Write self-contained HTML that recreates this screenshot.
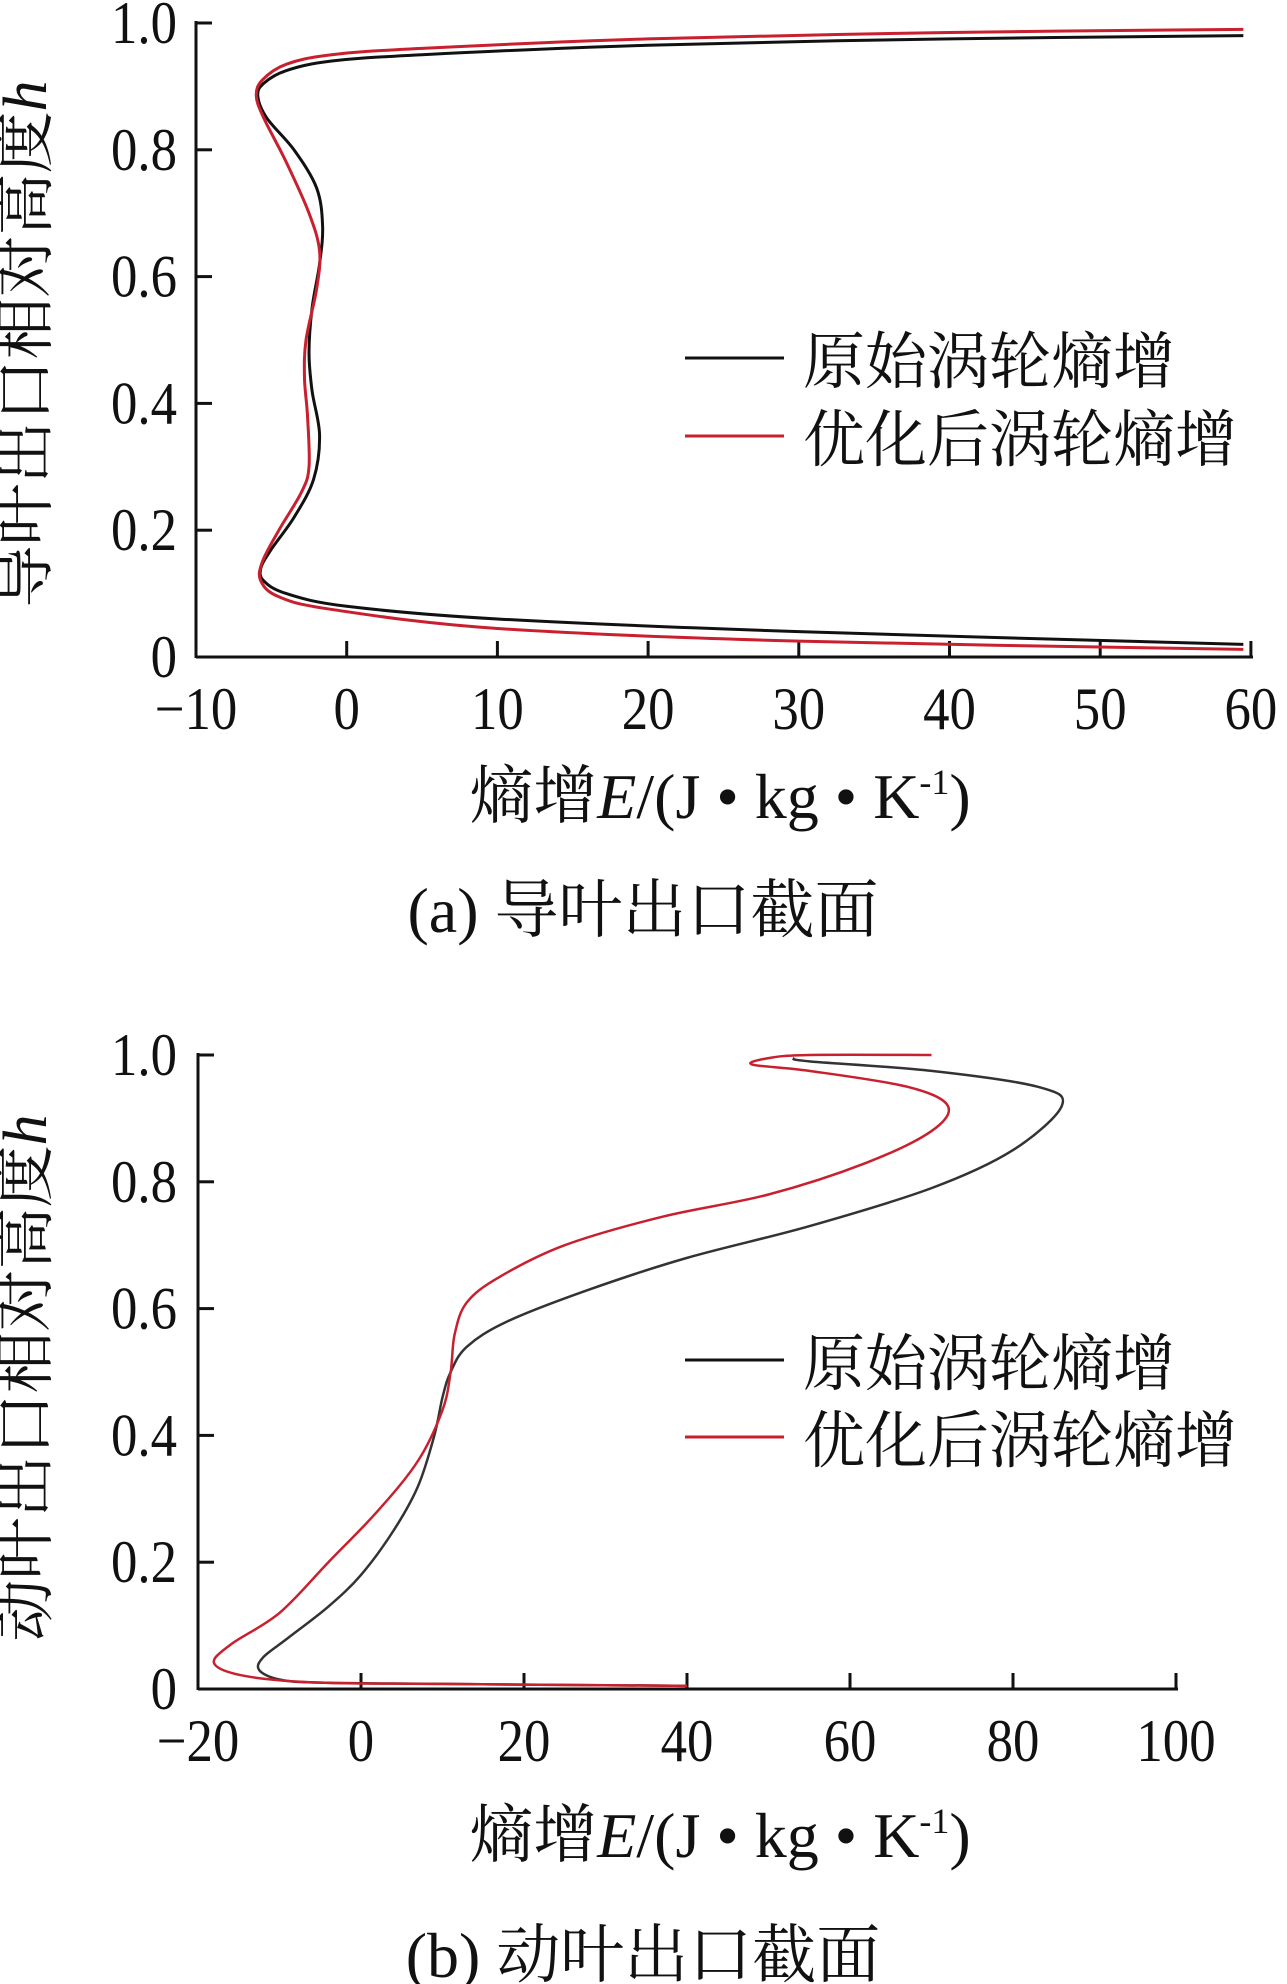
<!DOCTYPE html>
<html><head><meta charset="utf-8"><style>
html,body{margin:0;padding:0;background:#fff}
svg{display:block}
text{font-family:"Liberation Serif","Noto Serif CJK SC","Noto Sans CJK SC",serif;fill:#111}
</style></head><body>
<svg id="s" width="1287" height="1984" viewBox="0 0 1287 1984" xmlns="http://www.w3.org/2000/svg">
<g id="g"></g>
<line x1="196" y1="657" x2="1253" y2="657" stroke="#111" stroke-width="3"/>
<line x1="196" y1="21" x2="196" y2="658" stroke="#111" stroke-width="3"/>
<line x1="198" y1="1689" x2="1178" y2="1689" stroke="#111" stroke-width="3"/>
<line x1="198" y1="1053" x2="198" y2="1690" stroke="#111" stroke-width="3"/>
<g font-size="62">
<text x="32" y="344" transform="rotate(-90 32 344)" text-anchor="middle" dominant-baseline="middle">导叶出口相对高度<tspan font-style="italic">h</tspan></text>
<text x="32" y="1378" transform="rotate(-90 32 1378)" text-anchor="middle" dominant-baseline="middle">动叶出口相对高度<tspan font-style="italic">h</tspan></text>
</g>
<g font-size="64">
<text x="720" y="818" text-anchor="middle">熵增<tspan font-style="italic">E</tspan>/(J • kg • K<tspan font-size="36" dy="-24">-1</tspan><tspan dy="24">)</tspan></text>
<text x="720" y="1857" text-anchor="middle">熵增<tspan font-style="italic">E</tspan>/(J • kg • K<tspan font-size="36" dy="-24">-1</tspan><tspan dy="24">)</tspan></text>
<text x="643" y="932" text-anchor="middle">(a) 导叶出口截面</text>
<text x="643" y="1977" text-anchor="middle">(b) 动叶出口截面</text>
</g>
<g font-size="62">
<line x1="685" y1="358" x2="784" y2="358" stroke="#111" stroke-width="3"/>
<text x="803" y="383">原始涡轮熵增</text>
<line x1="685" y1="436" x2="784" y2="436" stroke="#c8202e" stroke-width="3"/>
<text x="803" y="461">优化后涡轮熵增</text>
<line x1="685" y1="1360" x2="784" y2="1360" stroke="#111" stroke-width="3"/>
<text x="803" y="1385">原始涡轮熵增</text>
<line x1="685" y1="1437" x2="784" y2="1437" stroke="#c8202e" stroke-width="3"/>
<text x="803" y="1462">优化后涡轮熵增</text>
</g>
</svg>
<script>
var NS="http://www.w3.org/2000/svg",g=document.getElementById("g");
function el(t,a,txt){var e=document.createElementNS(NS,t);for(var k in a)e.setAttribute(k,a[k]);if(txt!=null)e.textContent=txt;g.appendChild(e);return e;}
function lab(x,y,anchor,s){el("text",{x:0,y:0,"text-anchor":anchor,"font-size":60,transform:"translate("+x+" "+y+") scale(0.88 1)"},s);}
function path(pts,fx,fy,col,w){var p=pts.map(function(q){return[fx(q[0]),fy(q[1])]});var d="M"+p[0][0]+","+p[0][1];
for(var i=0;i<p.length-1;i++){var p0=p[i-1]||p[i],p1=p[i],p2=p[i+1],p3=p[i+2]||p2;
d+=" C"+(p1[0]+(p2[0]-p0[0])/6)+","+(p1[1]+(p2[1]-p0[1])/6)+" "+(p2[0]-(p3[0]-p1[0])/6)+","+(p2[1]-(p3[1]-p1[1])/6)+" "+p2[0]+","+p2[1];}
el("path",{d:d,fill:"none",stroke:col,"stroke-width":w});}
var ax=function(x){return 196+(x+10)*15.07},ay=function(h){return 657-h*634};
for(var v=-10;v<=60;v+=10){var x=ax(v);if(v>-10)el("line",{x1:x,y1:657,x2:x,y2:641,stroke:"#111","stroke-width":3});
lab(x,729,"middle",v<0?"\u2212"+(-v):""+v);}
for(var i=0;i<=5;i++){var y=ay(i*0.2);el("line",{x1:196,y1:y,x2:212,y2:y,stroke:"#111","stroke-width":3});
lab(177,y+20,"end",i==0?"0":(i*0.2).toFixed(1));}
var bt=[[59.5,0.98],[40,0.975],[20,0.965],[5,0.95],[-1,0.94],[-4,0.925],[-5.5,0.905],[-5.9,0.885],[-5.3,0.85],[-3.5,0.8],[-2,0.74],[-1.6,0.68],[-1.8,0.62],[-2.3,0.55],[-2.5,0.48],[-2.3,0.42],[-1.8,0.35],[-2.2,0.28],[-3.5,0.22],[-5,0.17],[-5.7,0.14],[-5.5,0.12],[-4,0.1],[0,0.08],[10,0.06],[30,0.04],[59.5,0.02]];
var rt=[[59.5,0.99],[40,0.985],[20,0.975],[5,0.96],[-1,0.95],[-4,0.935],[-5.6,0.91],[-6,0.885],[-5.5,0.85],[-4,0.78],[-2.5,0.7],[-1.8,0.64],[-2,0.58],[-2.7,0.5],[-2.8,0.44],[-2.6,0.38],[-2.5,0.3],[-3,0.26],[-4.5,0.2],[-5.6,0.15],[-5.7,0.12],[-4.5,0.095],[-1,0.075],[10,0.045],[30,0.025],[59.5,0.012]];
path(bt,ax,ay,"#111",3);path(rt,ax,ay,"#c8202e",3);
var bx=function(x){return 198+(x+20)*8.15},by=function(h){return 1689-h*634};
for(var v=-20;v<=100;v+=20){var x=bx(v);if(v>-20)el("line",{x1:x,y1:1689,x2:x,y2:1673,stroke:"#111","stroke-width":3});
lab(x,1761,"middle",v<0?"\u2212"+(-v):""+v);}
for(var i=0;i<=5;i++){var y=by(i*0.2);el("line",{x1:198,y1:y,x2:214,y2:y,stroke:"#111","stroke-width":3});
lab(177,y+20,"end",i==0?"0":(i*0.2).toFixed(1));}
var bb=[[40,0.005],[10,0.008],[-5,0.01],[-10,0.015],[-12.5,0.03],[-12,0.05],[-9,0.08],[-4,0.13],[0,0.18],[4,0.25],[7,0.32],[9,0.4],[10,0.46],[11,0.5],[13,0.54],[18,0.58],[28,0.63],[40,0.68],[55,0.73],[70,0.79],[80,0.85],[86,0.92],[83,0.95],[70,0.975],[55,0.99],[53,0.995]];
var rb=[[40,0.005],[10,0.008],[-5,0.01],[-14,0.02],[-18,0.04],[-16,0.07],[-10,0.12],[-4,0.2],[2,0.28],[7,0.36],[10,0.44],[11,0.5],[11.5,0.56],[13,0.61],[17,0.65],[25,0.7],[37,0.745],[50,0.78],[62,0.83],[70,0.88],[72,0.92],[67,0.95],[55,0.975],[48,0.985],[50,0.995],[55,1.0],[70,1.0]];
path(bb,bx,by,"#333",2.5);path(rb,bx,by,"#c8202e",2.5);
</script>
</body></html>
